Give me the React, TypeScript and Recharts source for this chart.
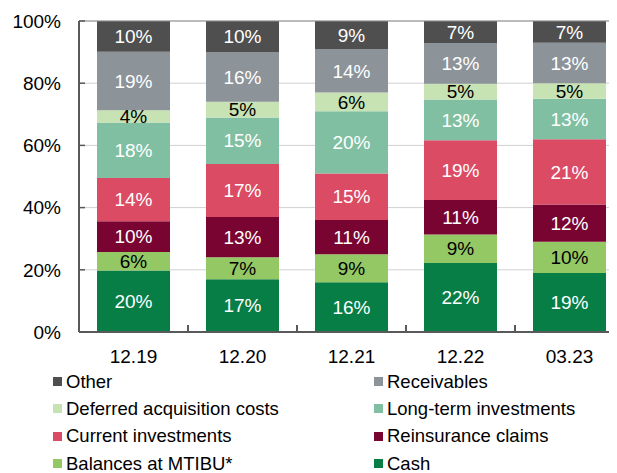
import React from 'react'
import {
    BarChart,
    Bar,
    XAxis,
    YAxis,
    CartesianGrid,
    LabelList,
    ReferenceLine
} from "recharts";

const categories = ["12.19", "12.20", "12.21", "12.22", "03.23"];

const cash = [20, 17, 16, 22, 19];
const mtibu = [6, 7, 9, 9, 10];
const reinsurance = [10, 13, 11, 11, 12];
const current = [14, 17, 15, 19, 21];
const longTerm = [18, 15, 20, 13, 13];
const deferred = [4, 5, 6, 5, 5];
const receivables = [19, 16, 14, 13, 13];
const other = [10, 10, 9, 7, 7];

const yTicks = [0, 0.2, 0.4, 0.6, 0.8, 1];

// bottom to top of the stack
const series = [
    { key: "cash", name: "Cash", values: cash, color: "#067e45", text: "#fff" },
    { key: "mtibu", name: "Balances at MTIBU*", values: mtibu, color: "#94c864", text: "#000" },
    { key: "reinsurance", name: "Reinsurance claims", values: reinsurance, color: "#7a0431", text: "#fff" },
    { key: "current", name: "Current investments", values: current, color: "#dc4b64", text: "#fff" },
    { key: "longTerm", name: "Long-term investments", values: longTerm, color: "#81bfa2", text: "#fff" },
    { key: "deferred", name: "Deferred acquisition costs", values: deferred, color: "#c8e3b3", text: "#000" },
    { key: "receivables", name: "Receivables", values: receivables, color: "#8c9399", text: "#fff" },
    { key: "other", name: "Other", values: other, color: "#4f4f4f", text: "#fff" }
];

const data = categories.map((name, i) => {
    const row: any = { name };
    series.forEach(s => { row[s.key] = s.values[i]; });
    return row;
});

const FONT = "'Liberation Sans', Arial, sans-serif";
const AXIS = "#595959";

const CHART_W = 630;
const CHART_H = 360;
const MARGIN = { top: 13, right: 14, left: 0, bottom: 0 };
const Y_W = 71;
const X_H = 36;
// half a category band, for the tick marks between bars
const HALF_BAND = (CHART_W - MARGIN.left - MARGIN.right - Y_W) / categories.length / 2;

const XTick = (props: any) => {
    const { x, y, payload } = props;
    const i = categories.indexOf(payload.value);
    const axisY = y - 18;
    return (
        <g>
            {i > 0 && (
                <path d={`M${x - HALF_BAND},${axisY} v-7`} stroke={AXIS} strokeWidth={2} fill="none" />
            )}
            <text x={x} y={y} dy="0.71em" textAnchor="middle" fontSize={19} fill="#000" fontFamily={FONT}>
                {payload.value}
            </text>
        </g>
    );
};

const YTick = (props: any) => {
    const { x, y, payload } = props;
    return (
        <g>
            <path d={`M${x + 18},${y} h6`} stroke={AXIS} strokeWidth={1.5} fill="none" />
            <text x={x} y={y} dy="0.355em" textAnchor="end" fontSize={19} fill="#000" fontFamily={FONT}>
                {Math.round(payload.value * 100) + "%"}
            </text>
        </g>
    );
};

// legend reads top of stack first, two per row
const legendItems = [...series].reverse();

const App = () => {
    return (
        <div style={{ position: "relative", width: 609, height: 465, overflow: "hidden", fontFamily: FONT }}>
            <BarChart
                width={CHART_W}
                height={CHART_H}
                data={data}
                stackOffset="expand"
                barSize={73}
                margin={MARGIN}
            >
                <CartesianGrid vertical={false} stroke="#d0d0d0" />
                <XAxis
                    dataKey="name"
                    height={X_H}
                    tickLine={false}
                    tickSize={6}
                    tickMargin={12}
                    axisLine={{ stroke: AXIS, strokeWidth: 2 }}
                    tick={XTick}
                    interval={0}
                />
                <YAxis
                    width={Y_W}
                    domain={[0, 1]}
                    ticks={yTicks}
                    tickLine={false}
                    tickSize={6}
                    tickMargin={12}
                    axisLine={{ stroke: AXIS, strokeWidth: 2 }}
                    tick={YTick}
                />
                {series.map(s => (
                    <Bar key={s.key} dataKey={s.key} stackId="a" fill={s.color} isAnimationActive={false}>
                        <LabelList
                            dataKey={s.key}
                            position="center"
                            fill={s.text}
                            fontSize={19}
                            fontFamily={FONT}
                            formatter={(v: any) => v + "%"}
                        />
                    </Bar>
                ))}
                <ReferenceLine y={1} stroke="#8f8f8f" />
            </BarChart>
            <div
                style={{
                    position: "absolute",
                    left: 45,
                    top: 360,
                    display: "grid",
                    gridTemplateColumns: "321px auto",
                    gridAutoRows: "27.3px",
                    fontSize: 18.5,
                    color: "#000"
                }}
            >
                {legendItems.map(s => (
                    <div key={s.key} style={{ display: "flex", alignItems: "center", whiteSpace: "nowrap" }}>
                        <span style={{ width: 9, height: 9, background: s.color, marginRight: 4, flexShrink: 0 }} />
                        <span>{s.name}</span>
                    </div>
                ))}
            </div>
        </div>
    )
}

export default App
